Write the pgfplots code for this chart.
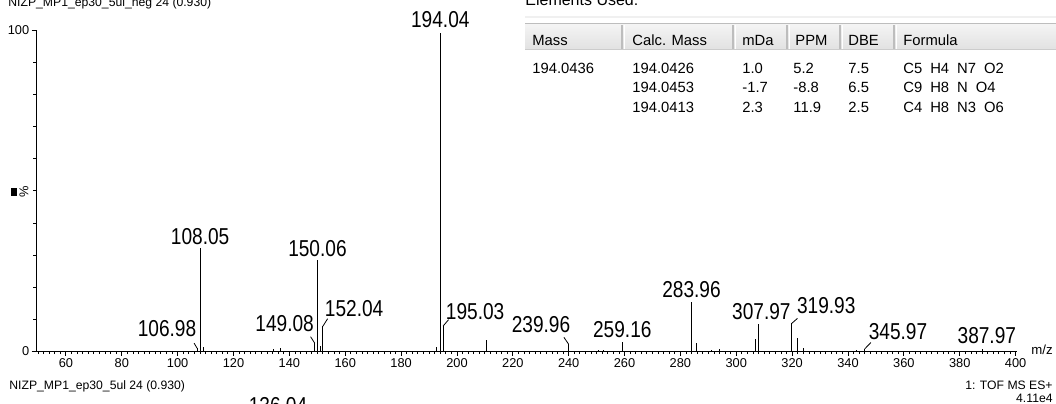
\documentclass[border=0pt]{standalone}
\usepackage{fontspec}
\setmainfont{Liberation Sans}
\newfontfamily\peakfont[FakeStretch=0.83]{Liberation Sans}
\usepackage{pgfplots}
\pgfplotsset{compat=1.18}
\definecolor{hdrtop}{HTML}{F4F4F4}
\definecolor{hdrbot}{HTML}{E2E2E2}
\definecolor{hdrline}{HTML}{BDBDBD}
\newcommand{\pk}{\peakfont\fontsize{11.5}{12}\selectfont}
\newcommand{\tb}{\fontsize{7.4}{8}\selectfont}
\begin{document}
\begin{tikzpicture}[x=0.5pt,y=0.5pt]
\useasboundingbox (0,0) rectangle (1056,403);
\begin{axis}[
  at={(18pt,25.75pt)}, anchor=south west,
  scale only axis, width=490.5pt, height=160.75pt,
  xmin=49.3, xmax=400.5, ymin=0, ymax=100,
  axis x line*=bottom, axis y line*=left,
  axis line style={-, black, line width=0.5pt},
  xtick={60,80,...,400}, minor xtick={50,52,...,400},
  ytick={0,100}, minor ytick={10,20,...,90},
  tick align=outside, major tick length=2.2pt, minor tick length=1.3pt,
  tick style={black, line width=0.4pt},
  ticklabel style={font=\fontsize{6.4}{7}\selectfont, inner sep=1pt},
  /pgf/number format/assume math mode=true,
  clip=false,
]
\addplot[ycomb, black, line width=0.5pt, mark=none] coordinates {
(106.98,1.0) (108.05,32.2) (109.3,1.4) (134.2,0.9) (137.0,1.1)
(149.08,2.6) (150.06,28.5) (151.1,1.6) (152.04,7.9) (192.6,1.4)
(194.04,99) (195.03,7.9) (210.5,3.6) (239.96,2.3) (250.5,0.5)
(252.5,0.5) (259.16,3.0) (283.96,15.5) (285.9,2.7) (291,0.5)
(294,0.7) (306.9,3.8) (307.97,8.6) (319.93,8.8) (321.9,4.2)
(324,1.0) (343,0.5) (345.97,0.8) (387.97,0.7)
};
% leaders
\draw[black, line width=0.4pt] (axis cs:106.98,1.0) -- (axis cs:105.9,2.6);
\draw[black, line width=0.4pt] (axis cs:149.08,2.6) -- (axis cs:147.6,4.6);
\draw[black, line width=0.4pt] (axis cs:152.04,7.9) -- (axis cs:153.7,10.2);
\draw[black, line width=0.4pt] (axis cs:195.03,7.9) -- (axis cs:197.0,9.9);
\draw[black, line width=0.4pt] (axis cs:239.96,2.3) -- (axis cs:238.3,4.4);
\draw[black, line width=0.4pt] (axis cs:319.93,8.8) -- (axis cs:321.9,10.3);
\draw[black, line width=0.4pt] (axis cs:345.97,0.8) -- (axis cs:348.2,2.8);
% peak labels
\node[anchor=base, inner sep=0, font=\pk] at (axis cs:96.2,4.6) {106.98};
\node[anchor=base, inner sep=0, font=\pk] at (axis cs:108.05,33.4) {108.05};
\node[anchor=base, inner sep=0, font=\pk] at (axis cs:138.3,6.2) {149.08};
\node[anchor=base, inner sep=0, font=\pk] at (axis cs:150.06,29.7) {150.06};
\node[anchor=base, inner sep=0, font=\pk] at (axis cs:163.2,10.8) {152.04};
\node[anchor=base, inner sep=0, font=\pk] at (axis cs:194.04,100.8) {194.04};
\node[anchor=base, inner sep=0, font=\pk] at (axis cs:206.5,9.8) {195.03};
\node[anchor=base, inner sep=0, font=\pk] at (axis cs:230.1,5.85) {239.96};
\node[anchor=base, inner sep=0, font=\pk] at (axis cs:259.2,4.3) {259.16};
\node[anchor=base, inner sep=0, font=\pk] at (axis cs:283.96,16.9) {283.96};
\node[anchor=base, inner sep=0, font=\pk] at (axis cs:309.0,9.8) {307.97};
\node[anchor=base, inner sep=0, font=\pk] at (axis cs:332.2,11.9) {319.93};
\node[anchor=base, inner sep=0, font=\pk] at (axis cs:357.9,3.6) {345.97};
\node[anchor=base, inner sep=0, font=\pk] at (axis cs:389.7,2.55) {387.97};
\end{axis}
% y label and marker
\fill[black] (11,403-188) rectangle (16.7,403-195.7);
\node[rotate=90, inner sep=0, font=\fontsize{6.4}{7}\selectfont] at (24,403-192) {\%};
% m/z
\node[anchor=base west, inner sep=0, font=\fontsize{6.6}{7}\selectfont] at (1031,403-354) {m/z};
% bottom texts
\node[anchor=base west, inner sep=0, font=\fontsize{6.1}{7}\selectfont] at (9,403-389) {NIZP\_MP1\_ep30\_5ul 24 (0.930)};
\node[anchor=base east, inner sep=0, font=\fontsize{6.1}{7}\selectfont] at (1053,403-389) {1: TOF MS ES+};
\node[anchor=base east, inner sep=0, font=\fontsize{6.1}{7}\selectfont] at (1053,403-402) {4.11e4};
\node[anchor=base, inner sep=0, font=\pk] at (278,403-413.5) {136.04};
% top texts (cut)
\node[anchor=base west, inner sep=0, font=\fontsize{6.1}{7}\selectfont] at (8,403-6) {NIZP\_MP1\_ep30\_5ul\_neg 24 (0.930)};
\node[anchor=base west, inner sep=0, font=\fontsize{8}{9}\selectfont] at (525,403-5) {Elements Used:};
% table
\fill[black!6] (525,403-16) rectangle (1056,403-17.5);
\shade[top color=hdrtop, bottom color=hdrbot] (525,403-24) rectangle (1056,403-49);
\draw[hdrline, line width=0.5pt] (525,403-23.5) -- (1056,403-23.5);
\draw[black!20, line width=0.4pt] (525,403-49) -- (1056,403-49);
\foreach \xx in {622,733,787,840,894} {
  \draw[hdrline, line width=0.6pt] (\xx,403-25) -- (\xx,403-48.5);
  \draw[white, line width=0.5pt] (\xx+2,403-25) -- (\xx+2,403-48.5);
}
\foreach \xx/\t in {532/Mass,632/Calc. Mass,742/mDa,795/PPM,848/DBE,903/Formula} {
  \node[anchor=base west, inner sep=0, font=\tb] at (\xx,403-45.5) {\t};
}
\foreach \yy/\a/\b/\c/\d/\e/\f in {
  73/194.0436/194.0426/1.0/5.2/7.5/{C5\hspace{4pt}H4\hspace{4pt}N7\hspace{4pt}O2},
  92.5//194.0453/-1.7/-8.8/6.5/{C9\hspace{4pt}H8\hspace{4pt}N\hspace{4pt}O4},
  112//194.0413/2.3/11.9/2.5/{C4\hspace{4pt}H8\hspace{4pt}N3\hspace{4pt}O6}} {
  \node[anchor=base west, inner sep=0, font=\tb] at (532,403-\yy) {\a};
  \node[anchor=base west, inner sep=0, font=\tb] at (632,403-\yy) {\b};
  \node[anchor=base west, inner sep=0, font=\tb] at (742,403-\yy) {\c};
  \node[anchor=base west, inner sep=0, font=\tb] at (793,403-\yy) {\d};
  \node[anchor=base west, inner sep=0, font=\tb] at (848,403-\yy) {\e};
  \node[anchor=base west, inner sep=0, font=\tb] at (903,403-\yy) {\f};
}
\end{tikzpicture}
\end{document}
